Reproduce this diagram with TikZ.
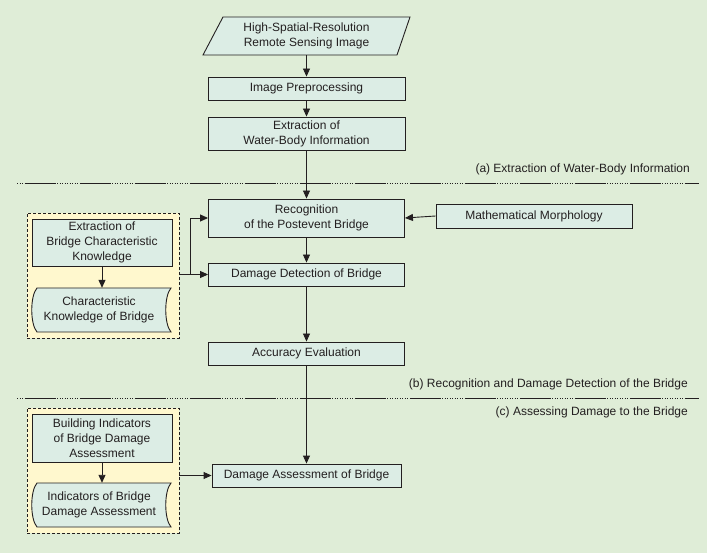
\documentclass[tikz,border=0pt]{standalone}
\usepackage{fontspec}
\setmainfont{Liberation Sans}
\usetikzlibrary{arrows.meta}
\definecolor{bg}{HTML}{DFEDD7}
\definecolor{boxfill}{HTML}{DCEDE5}
\definecolor{yel}{HTML}{FFF8CE}
\definecolor{ink}{HTML}{231F20}
\begin{document}
\begin{tikzpicture}[x=1pt,y=-1pt,
  font=\fontsize{12}{15}\selectfont, text=ink,
  box/.style={draw=ink, fill=boxfill, line width=0.9pt, align=center, inner sep=0pt},
  plain/.style={align=center, inner sep=0pt},
  group/.style={draw=ink, fill=yel, line width=0.9pt, dash pattern=on 3pt off 2pt, inner sep=0pt},
  arr/.style={draw=ink, line width=0.9pt, -{Triangle[length=8pt,width=7pt]}},
  docshape/.style={draw=ink, fill=boxfill, line width=0.9pt},
  divline/.style={draw=ink, line width=1pt}]
\useasboundingbox[fill=bg] (0,0) rectangle (707,553);

% dividing lines
\foreach \yy in {184,398}{
  \draw[divline, dash pattern=on 1.2pt off 1.3pt] (17,\yy) -- (699,\yy);
  \draw[divline, dash pattern=on 29.5pt off 25.5pt, dash phase=46pt] (17,\yy) -- (699,\yy);
}
\node[plain, anchor=east] (la) at (690,169) {(a) Extraction of Water-Body Information};
\node[plain, anchor=east] (lb) at (688,384) {(b) Recognition and Damage Detection of the Bridge};
\node[plain, anchor=east] (lc) at (688,412) {(c) Assessing Damage to the Bridge};

% parallelogram input
\draw[docshape] (223,17) -- (410,17) -- (397,55) -- (203,55) -- cycle;
\node[plain, minimum width=194pt, minimum height=38pt] (para) at (306.5,36)
  {High-Spatial-Resolution\\Remote Sensing Image};

\node[box, minimum width=197pt, minimum height=23pt] (prep) at (306.5,88.5) {Image Preprocessing};
\node[box, minimum width=197pt, minimum height=33pt] (extr) at (306.5,133.5) {Extraction of\\Water-Body Information};
\node[box, minimum width=196pt, minimum height=38pt] (recog) at (306.5,218) {Recognition\\of the Postevent Bridge};
\node[box, minimum width=196pt, minimum height=23pt] (dd) at (306.5,274.5) {Damage Detection of Bridge};
\node[box, minimum width=196pt, minimum height=23pt] (acc) at (306.5,353.5) {Accuracy Evaluation};
\node[box, minimum width=196pt, minimum height=24pt] (math) at (534,216) {Mathematical Morphology};
\node[box, minimum width=189pt, minimum height=23pt] (dab) at (306.5,475.5) {Damage Assessment of Bridge};

% group 1
\node[group, minimum width=152pt, minimum height=125pt] (g1) at (103,275.5) {};
\node[box, minimum width=140pt, minimum height=47pt] (ebck) at (102,242.5) {Extraction of\\Bridge Characteristic\\Knowledge};
\draw[docshape] (37,288) -- (171,288) .. controls (164,296) and (164,324) .. (171,332)
  -- (37,332) .. controls (30,324) and (30,296) .. (37,288) -- cycle;
\node[plain, minimum width=130pt, minimum height=44pt] (ckb) at (99,310) {Characteristic\\Knowledge of Bridge};

% group 2
\node[group, minimum width=152pt, minimum height=125pt] (g2) at (103,470.5) {};
\node[box, minimum width=140pt, minimum height=48pt] (bida) at (102,438) {Building Indicators\\of Bridge Damage\\Assessment};
\draw[docshape] (37,483) -- (171,483) .. controls (164,491) and (164,519) .. (171,527)
  -- (37,527) .. controls (30,519) and (30,491) .. (37,483) -- cycle;
\node[plain, minimum width=130pt, minimum height=44pt] (ida) at (99,505) {Indicators of Bridge\\Damage Assessment};

% connectors
\draw[arr] (para.south) -- (prep.north);
\draw[arr] (prep) -- (extr);
\draw[arr] (extr) -- (recog);
\draw[arr] (math.west) -- (recog.east);
\draw[arr] (recog) -- (dd);
\draw[arr] (dd) -- (acc);
\draw[arr] (acc) -- (dab);
\draw[arr] (ebck.south) -- (ebck.south |- ckb.north);
\draw[arr] (bida.south) -- (bida.south |- ida.north);
\coordinate (br) at (190,274.5);
\draw[arr] (dd.west -| g1.east) -- (dd.west);
\draw[arr] (br) |- (recog.west);
\draw[arr] (dab.west -| g2.east) -- (dab.west);
\end{tikzpicture}
\end{document}
